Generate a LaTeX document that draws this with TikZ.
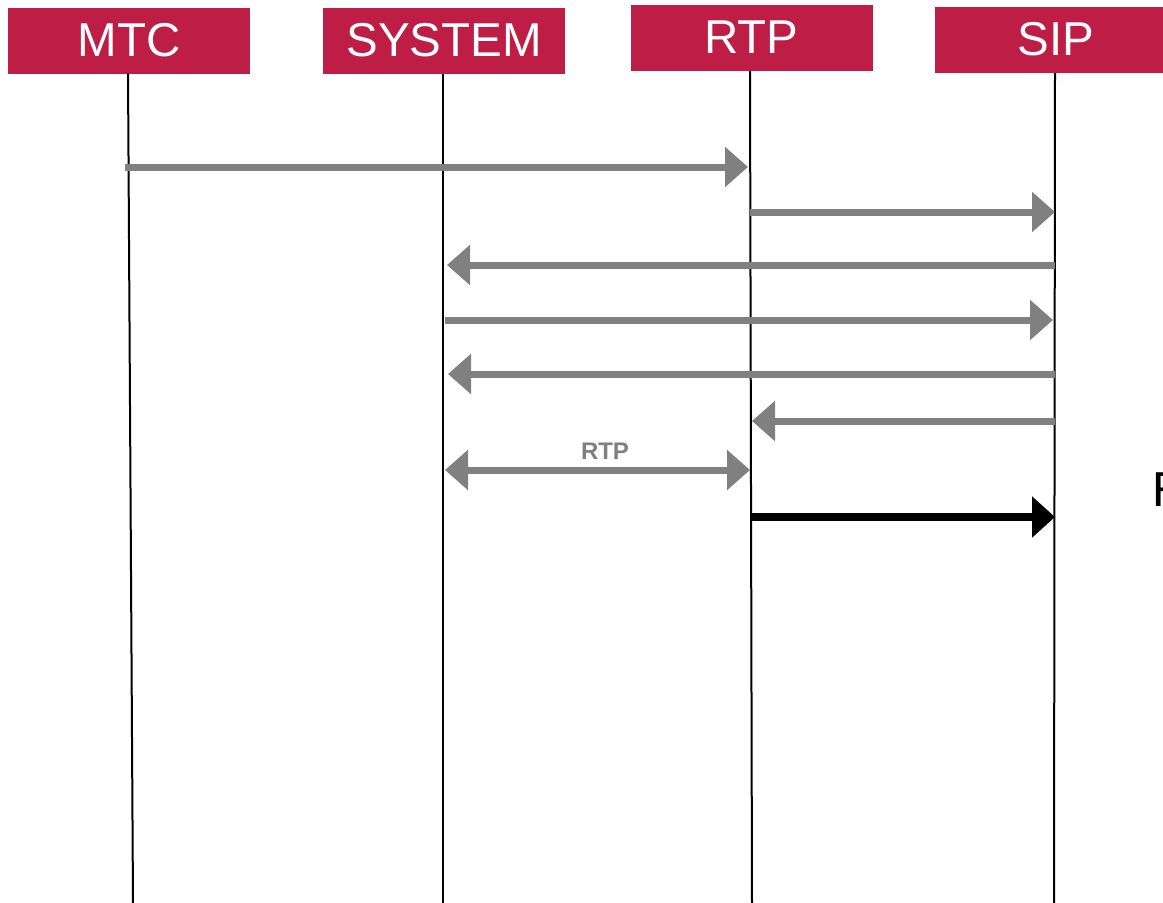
\documentclass[tikz,border=0pt]{standalone}
\usepackage{fontspec}
\setmainfont{Liberation Sans}
\newfontfamily\cutfont{Fira Sans}
\usetikzlibrary{arrows.meta}
\definecolor{hdr}{HTML}{BE1E45}
\definecolor{msg}{HTML}{808080}
\tikzset{
  head/.style={fill=hdr, minimum width=242pt, minimum height=66pt, inner sep=0pt,
    text=white, font=\fontsize{47.5}{47.5}\selectfont},
  life/.style={line width=2pt, black},
  msgarrow/.style={line width=7pt, msg, -{Triangle[length=23pt,width=39pt]}},
  msgboth/.style={line width=7pt, msg, {Triangle[length=23pt,width=39pt]}-{Triangle[length=23pt,width=39pt]}},
  blackarrow/.style={line width=8pt, black, -{Triangle[length=23pt,width=40pt]}},
  msglabel/.style={text=msg, font=\bfseries\fontsize{24}{24}\selectfont, inner sep=0pt},
}
\begin{document}
\begin{tikzpicture}[x=1pt,y=-1pt]
\useasboundingbox (0,0) rectangle (1163,903);
\clip (0,0) rectangle (1163,903);
\fill[white] (0,0) rectangle (1163,903);
% header boxes
\node[head] (hMTC) at (129,40.5) {MTC};
\node[head] (hSYS) at (444,40.5) {SYSTEM};
\node[head] (hRTP) at (751.5,37.5) {RTP};
\node[head] (hSIP) at (1056,39.5) {SIP};
% lifeline ends
\coordinate (eMTC) at (133,903);
\coordinate (eSYS) at (443,903);
\coordinate (eRTP) at (752,903);
\coordinate (eSIP) at (1054,903);
\draw[life] (128,73) -- (eMTC);
\draw[life] (hSYS.south -| eSYS) -- (eSYS);
\draw[life] (750,71) -- (eRTP);
\draw[life] (1055,73) -- (eSIP);
% message end points
\coordinate (m1a) at (125,167);  \coordinate (m1b) at (748,167);
\coordinate (m2a) at (750,212);  \coordinate (m2b) at (1055,212);
\coordinate (m3a) at (1055,265); \coordinate (m3b) at (447,265);
\coordinate (m4a) at (445,320);  \coordinate (m4b) at (1053,320);
\coordinate (m5a) at (1055,374); \coordinate (m5b) at (448,374);
\coordinate (m6a) at (1055,421); \coordinate (m6b) at (752,421);
\coordinate (m7a) at (445,470);  \coordinate (m7b) at (750,470);
\coordinate (m8a) at (750,517);  \coordinate (m8b) at (1055,517);
\draw[msgarrow] (m1a) -- (m1b);
\draw[msgarrow] (m2a) -- (m2b);
\draw[msgarrow] (m3a) -- (m3b);
\draw[msgarrow] (m4a) -- (m4b);
\draw[msgarrow] (m5a) -- (m5b);
\draw[msgarrow] (m6a) -- (m6b);
\draw[msgboth] (m7a) -- (m7b);
\node[msglabel] (lRTP) at (605,451) {RTP};
\draw[blackarrow] (m8a) -- (m8b);
% cut-off text at right edge (as in the reference)
\node[anchor=base west, inner sep=0pt, font=\cutfont\fontsize{49}{49}\selectfont] (cut) at (1151,506) {F};
\end{tikzpicture}
\end{document}
